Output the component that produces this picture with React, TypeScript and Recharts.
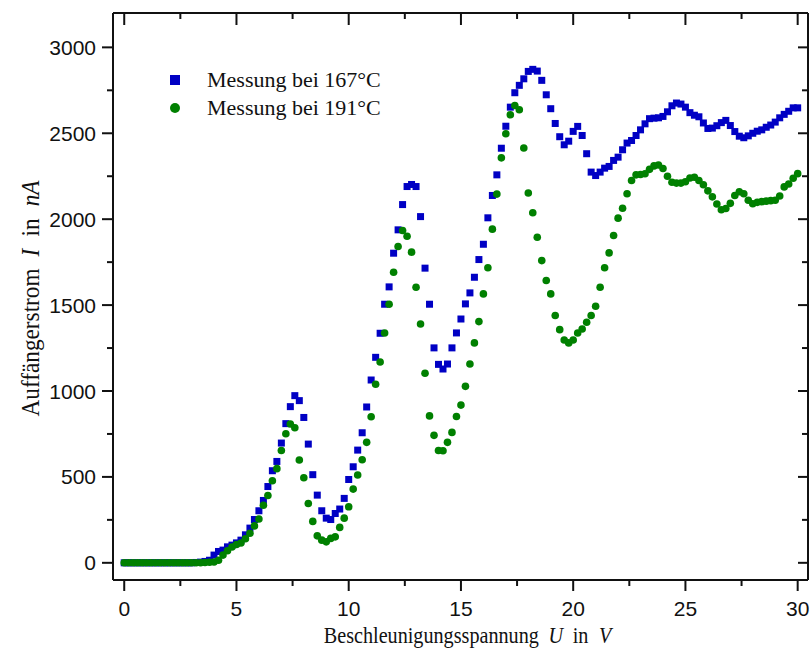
import { ScatterChart, Scatter, XAxis, YAxis, Legend } from 'recharts';

// Beschleunigungsspannung in V (Schrittweite 0.2 V)
const volts = [
  0, 0.2, 0.4, 0.6, 0.8, 1, 1.2, 1.4, 1.6, 1.8,
  2, 2.2, 2.4, 2.6, 2.8, 3, 3.2, 3.4, 3.6, 3.8,
  4, 4.2, 4.4, 4.6, 4.8, 5, 5.2, 5.4, 5.6, 5.8,
  6, 6.2, 6.4, 6.6, 6.8, 7, 7.2, 7.4, 7.6, 7.8,
  8, 8.2, 8.4, 8.6, 8.8, 9, 9.2, 9.4, 9.6, 9.8,
  10, 10.2, 10.4, 10.6, 10.8, 11, 11.2, 11.4, 11.6, 11.8,
  12, 12.2, 12.4, 12.6, 12.8, 13, 13.2, 13.4, 13.6, 13.8,
  14, 14.2, 14.4, 14.6, 14.8, 15, 15.2, 15.4, 15.6, 15.8,
  16, 16.2, 16.4, 16.6, 16.8, 17, 17.2, 17.4, 17.6, 17.8,
  18, 18.2, 18.4, 18.6, 18.8, 19, 19.2, 19.4, 19.6, 19.8,
  20, 20.2, 20.4, 20.6, 20.8, 21, 21.2, 21.4, 21.6, 21.8,
  22, 22.2, 22.4, 22.6, 22.8, 23, 23.2, 23.4, 23.6, 23.8,
  24, 24.2, 24.4, 24.6, 24.8, 25, 25.2, 25.4, 25.6, 25.8,
  26, 26.2, 26.4, 26.6, 26.8, 27, 27.2, 27.4, 27.6, 27.8,
  28, 28.2, 28.4, 28.6, 28.8, 29, 29.2, 29.4, 29.6, 29.8,
  30,
];

// Auffaengerstrom in nA, Messung bei 167 Grad
const current167 = [
  0, 0, 0, 0, 0, 0, 0, 0, 0, 0,
  0, 0, 0, 0, 0, 0, 2, 4, 8, 15,
  45, 66, 74, 93, 103, 116, 132, 163, 202, 252,
  303, 363, 444, 536, 590, 697, 810, 909, 973, 944,
  846, 691, 513, 394, 303, 260, 252, 287, 313, 375,
  485, 559, 656, 757, 907, 1064, 1196, 1336, 1505, 1606,
  1802, 1938, 2085, 2190, 2202, 2190, 2015, 1715, 1505, 1251,
  1155, 1128, 1157, 1251, 1338, 1419, 1507, 1571, 1662, 1765,
  1854, 2008, 2138, 2258, 2413, 2541, 2652, 2736, 2779, 2817,
  2860, 2872, 2862, 2808, 2724, 2643, 2557, 2480, 2433, 2454,
  2511, 2540, 2487, 2381, 2274, 2254, 2274, 2297, 2307, 2342,
  2361, 2404, 2443, 2458, 2487, 2520, 2555, 2585, 2588, 2590,
  2598, 2625, 2660, 2676, 2670, 2652, 2620, 2605, 2596, 2560,
  2528, 2530, 2544, 2562, 2575, 2545, 2510, 2483, 2474, 2485,
  2500, 2512, 2520, 2535, 2548, 2565, 2590, 2610, 2628, 2648,
  2648,
];

// Auffaengerstrom in nA, Messung bei 191 Grad
const current191 = [
  0, 0, 0, 0, 0, 0, 0, 0, 0, 0,
  0, 0, 0, 0, 0, 0, 0, 0, 2, 3,
  5, 15, 45, 70, 92, 107, 115, 140, 172, 215,
  255, 335, 392, 478, 548, 654, 751, 808, 786, 598,
  495, 345, 241, 157, 132, 122, 142, 151, 206, 260,
  326, 429, 511, 600, 701, 850, 1039, 1169, 1338, 1505,
  1691, 1841, 1934, 1901, 1808, 1604, 1390, 1103, 855, 742,
  654, 652, 701, 759, 852, 918, 1027, 1157, 1280, 1404,
  1565, 1717, 1942, 2146, 2357, 2497, 2608, 2662, 2637, 2414,
  2152, 2037, 1895, 1759, 1643, 1565, 1439, 1357, 1297, 1280,
  1297, 1338, 1361, 1400, 1439, 1493, 1604, 1717, 1804, 1905,
  2006, 2064, 2148, 2225, 2258, 2260, 2264, 2290, 2310, 2315,
  2295, 2250, 2215, 2210, 2210, 2218, 2240, 2244, 2225, 2200,
  2165, 2130, 2088, 2055, 2062, 2092, 2138, 2160, 2148, 2110,
  2090, 2098, 2102, 2105, 2108, 2110, 2135, 2188, 2205, 2238,
  2265,
];

const seriesNames = ['Messung bei 167°C', 'Messung bei 191°C'];
const xTicks = [0, 2.5, 5, 7.5, 10, 12.5, 15, 17.5, 20, 22.5, 25, 27.5, 30];
const yTicks = [0, 250, 500, 750, 1000, 1250, 1500, 1750, 2000, 2250, 2500, 2750, 3000];

const data167 = volts.map((v, i) => ({ x: v, y: current167[i] }));
const data191 = volts.map((v, i) => ({ x: v, y: current191[i] }));

const BLUE = '#0000c4';
const GREEN = '#008000';
const INK = '#111';
const SANS = '"Liberation Sans", Arial, sans-serif';
const SERIF = '"Liberation Serif", "Times New Roman", serif';

const BottomTick = ({ x, y, payload }: any) => {
  const major = payload.value % 5 === 0;
  return (
    <g>
      <line x1={x} y1={y} x2={x} y2={y + (major ? 11 : 6)} stroke={INK} strokeWidth={2} />
      {major && (
        <text x={x} y={y + 28} textAnchor="middle" dominantBaseline="central" fontFamily={SANS} fontSize={21} fill={INK}>
          {payload.value}
        </text>
      )}
    </g>
  );
};

const TopTick = ({ x, y, payload }: any) => {
  const major = payload.value % 5 === 0;
  return <line x1={x} y1={y} x2={x} y2={y + (major ? 12 : 6)} stroke={INK} strokeWidth={2} />;
};

const LeftTick = ({ x, y, payload }: any) => {
  const major = payload.value % 500 === 0;
  return (
    <g>
      <line x1={x - (major ? 11 : 6)} y1={y} x2={x} y2={y} stroke={INK} strokeWidth={2} />
      {major && (
        <text x={x - 17} y={y} textAnchor="end" dominantBaseline="central" fontFamily={SANS} fontSize={21} fill={INK}>
          {payload.value}
        </text>
      )}
    </g>
  );
};

const RightTick = ({ x, y, payload }: any) => {
  const major = payload.value % 500 === 0;
  return <line x1={x - (major ? 10 : 6)} y1={y} x2={x} y2={y} stroke={INK} strokeWidth={2} />;
};

// Origin setzt die Achsentitel in einer schmal laufenden Times
const XTitle = ({ viewBox }: any) => {
  const cx = viewBox.x + viewBox.width / 2 + 7;
  const cy = viewBox.y + 56;
  return (
    <text
      x={0}
      y={0}
      transform={`translate(${cx}, ${cy}) scale(0.877, 1)`}
      textAnchor="middle"
      dominantBaseline="central"
      fontFamily={SERIF}
      fontSize={23}
      fill={INK}
    >
      <tspan>Beschleunigungsspannung</tspan>
      <tspan dx={11} fontStyle="italic">U</tspan>
      <tspan dx={11}>in</tspan>
      <tspan dx={12} fontStyle="italic">V</tspan>
    </text>
  );
};

const YTitle = ({ viewBox }: any) => {
  const cx = viewBox.x + 30;
  const cy = viewBox.y + viewBox.height / 2 + 2;
  return (
    <text
      x={0}
      y={0}
      transform={`translate(${cx}, ${cy}) rotate(-90) scale(0.93, 1)`}
      textAnchor="middle"
      dominantBaseline="central"
      fontFamily={SERIF}
      fontSize={25}
      fill={INK}
    >
      <tspan>Auffängerstrom</tspan>
      <tspan dx={13} fontStyle="italic">I</tspan>
      <tspan dx={13}>in</tspan>
      <tspan dx={13} fontStyle="italic">nA</tspan>
    </text>
  );
};

const LegendBox = ({ payload }: any) => (
  <div style={{ fontFamily: SERIF, fontSize: 22, color: INK }}>
    {(payload || []).map((entry: any, i: number) => (
      <div key={entry.value} style={{ display: 'flex', alignItems: 'center', height: 28 }}>
        <span style={{ width: 30, display: 'flex', justifyContent: 'center' }}>
          <span
            style={{
              display: 'inline-block',
              width: 10,
              height: 10,
              borderRadius: i === 0 ? 0 : '50%',
              background: entry.color,
            }}
          />
        </span>
        <span style={{ marginLeft: 17, whiteSpace: 'nowrap' }}>{entry.value}</span>
      </div>
    ))}
  </div>
);

const squareShape = (p: any) => <rect x={p.cx - 3.5} y={p.cy - 3.5} width={7} height={7} fill={BLUE} />;
const circleShape = (p: any) => <circle cx={p.cx} cy={p.cy} r={3.8} fill={GREEN} />;

export default function App() {
  return (
    <div style={{ position: 'absolute', left: 0, top: 0, width: 810, height: 654, background: '#fff' }}>
      <ScatterChart width={810} height={654} margin={{ top: 12, right: 1, bottom: 0, left: 0 }}>
        <XAxis
          xAxisId="bottom"
          orientation="bottom"
          type="number"
          dataKey="x"
          domain={[-0.5, 30.46]}
          allowDataOverflow
          ticks={xTicks}
          interval={0}
          height={74}
          tickSize={0}
          tickMargin={0}
          tickLine={false}
          tick={BottomTick}
          axisLine={{ stroke: INK, strokeWidth: 2 }}
          label={{ content: XTitle }}
        />
        <XAxis
          xAxisId="top"
          orientation="top"
          type="number"
          dataKey="x"
          domain={[-0.5, 30.46]}
          allowDataOverflow
          ticks={xTicks}
          interval={0}
          height={1}
          tickSize={0}
          tickMargin={0}
          tickLine={false}
          tick={TopTick}
          axisLine={{ stroke: INK, strokeWidth: 2 }}
        />
        <YAxis
          yAxisId="left"
          orientation="left"
          type="number"
          dataKey="y"
          domain={[-100, 3200]}
          allowDataOverflow
          ticks={yTicks}
          interval={0}
          width={113}
          tickSize={0}
          tickMargin={0}
          tickLine={false}
          tick={LeftTick}
          axisLine={{ stroke: INK, strokeWidth: 2 }}
          label={{ content: YTitle }}
        />
        <YAxis
          yAxisId="right"
          orientation="right"
          type="number"
          dataKey="y"
          domain={[-100, 3200]}
          allowDataOverflow
          ticks={yTicks}
          interval={0}
          width={1}
          tickSize={0}
          tickMargin={0}
          tickLine={false}
          tick={RightTick}
          axisLine={{ stroke: INK, strokeWidth: 2 }}
        />
        <Legend
          layout="horizontal"
          verticalAlign="middle"
          align="center"
          content={LegendBox}
          wrapperStyle={{ left: 160, top: 66, width: 280, height: 56 }}
        />
        <Scatter
          name={seriesNames[0]}
          data={data167}
          xAxisId="bottom"
          yAxisId="left"
          fill={BLUE}
          shape={squareShape}
          isAnimationActive={false}
        />
        <Scatter
          name={seriesNames[1]}
          data={data191}
          xAxisId="top"
          yAxisId="right"
          fill={GREEN}
          shape={circleShape}
          isAnimationActive={false}
        />
      </ScatterChart>
    </div>
  );
}
